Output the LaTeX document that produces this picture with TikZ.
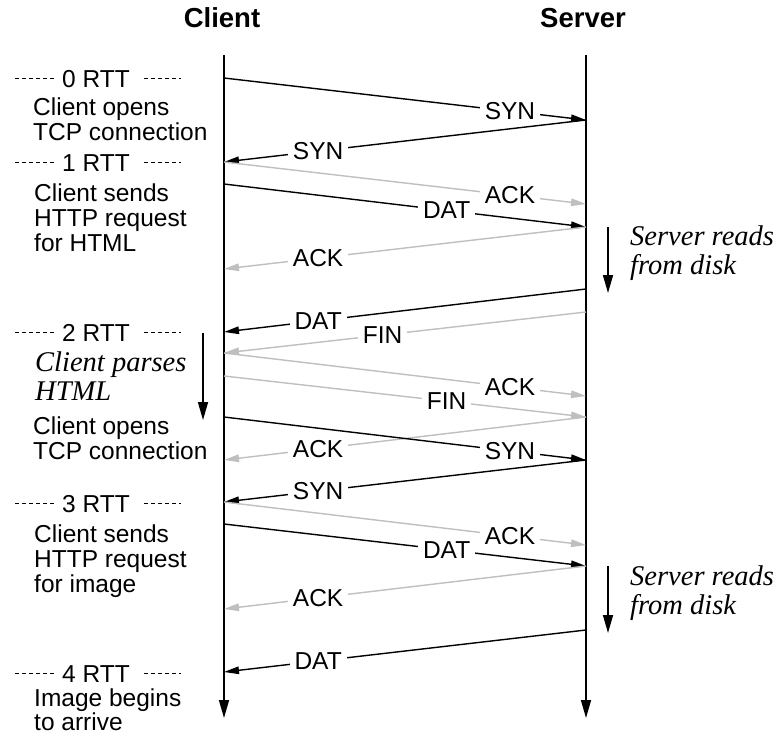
\documentclass[tikz,border=0pt]{standalone}
\usepackage{fontspec}
\setmainfont{Liberation Serif}
\setsansfont{Liberation Sans}
\usetikzlibrary{arrows.meta}

\tikzset{
	life/.style={line width=1.6pt, -{Triangle[length=18pt,width=10pt]}},
	msg/.style={line width=1.4pt, -{Triangle[length=15pt,width=7.5pt]}},
	ackmsg/.style={msg, color=black!25},
	lbl/.style={fill=white, text=black, inner xsep=5pt, inner ysep=1pt, font=\sffamily\fontsize{24.5}{25}\selectfont},
	note/.style={anchor=north west, align=left, inner sep=0pt, font=\sffamily\fontsize{24.5}{25}\selectfont},
	thought/.style={anchor=north west, align=left, inner sep=0pt, font=\itshape\fontsize{28.5}{29}\selectfont},
	rtt/.style={anchor=base, inner sep=0pt, font=\sffamily\fontsize{24.5}{25}\selectfont},
	rttdash/.style={line width=1pt, dash pattern=on 4pt off 3pt},
	head/.style={font=\sffamily\bfseries\fontsize{27.5}{30}\selectfont}
}

\begin{document}
\begin{tikzpicture}[x=1pt,y=-1pt]
	\useasboundingbox (0,0) rectangle (778,736);

	\node[head] (client) at (222,18) {Client};
	\node[head] (server) at (583,18) {Server};

	% time lines
	\coordinate (ctop) at (224,55);
	\coordinate (cbot) at (224,718);
	\coordinate (stop) at (586,55);
	\coordinate (sbot) at (586,718);
	\draw[life] (ctop) -- (cbot);
	\draw[life] (stop) -- (sbot);

	% points on the client line
	\coordinate (c1) at (224,78);
	\coordinate (c2) at (224,162);
	\coordinate (c3) at (224,184);
	\coordinate (c4) at (224,269);
	\coordinate (c5) at (224,332);
	\coordinate (c6) at (224,353);
	\coordinate (c7) at (224,376);
	\coordinate (c8) at (224,417);
	\coordinate (c9) at (224,460);
	\coordinate (c10) at (224,502);
	\coordinate (c11) at (224,524);
	\coordinate (c12) at (224,609);
	\coordinate (c13) at (224,672);

	% points on the server line
	\coordinate (s1) at (586,120);
	\coordinate (s2) at (586,204);
	\coordinate (s3) at (586,227);
	\coordinate (s4) at (586,289);
	\coordinate (s5) at (586,312);
	\coordinate (s6) at (586,396);
	\coordinate (s7) at (586,417);
	\coordinate (s8) at (586,460);
	\coordinate (s9) at (586,545);
	\coordinate (s10) at (586,566);
	\coordinate (s11) at (586,630);

	% first request
	\draw[msg] (c1) -- node[lbl, pos=0.79] {SYN} (s1);
	\draw[msg] (s1) -- node[lbl, pos=0.74] {SYN} (c2);
	\draw[ackmsg] (c2) -- node[lbl, pos=0.79] {ACK} (s2);
	\draw[msg] (c3) -- node[lbl, pos=0.615] {DAT} (s3);
	\draw[ackmsg] (s3) -- node[lbl, pos=0.74] {ACK} (c4);
	\draw[msg] (s4) -- node[lbl, pos=0.74] {DAT} (c5);
	\draw[ackmsg] (s5) -- node[lbl, pos=0.562] {FIN} (c6);
	\draw[ackmsg] (c6) -- node[lbl, pos=0.79] {ACK} (s6);
	\draw[ackmsg] (c7) -- node[lbl, pos=0.615] {FIN} (s7);

	% second request
	\draw[ackmsg] (s7) -- node[lbl, pos=0.74] {ACK} (c9);
	\draw[msg] (c8) -- node[lbl, pos=0.79] {SYN} (s8);
	\draw[msg] (s8) -- node[lbl, pos=0.74] {SYN} (c10);
	\draw[ackmsg] (c10) -- node[lbl, pos=0.79] {ACK} (s9);
	\draw[msg] (c11) -- node[lbl, pos=0.615] {DAT} (s10);
	\draw[ackmsg] (s10) -- node[lbl, pos=0.74] {ACK} (c12);
	\draw[msg] (s11) -- node[lbl, pos=0.74] {DAT} (c13);

	% round trip marks
	\node[rtt] (r0) at (96,87) {0 RTT};
	\node[rtt] (r1) at (96,171) {1 RTT};
	\node[rtt] (r2) at (96,341) {2 RTT};
	\node[rtt] (r3) at (96,512) {3 RTT};
	\node[rtt] (r4) at (96,682) {4 RTT};
	\foreach \r in {r0,r1,r2,r3,r4}{
		\draw[rttdash] (\r.west) ++(-8,0) -- ++(-40,0);
		\draw[rttdash] (\r.east) ++(14,0) -- ++(37,0);
	}

	% what happens meanwhile
	\node[note] (open1) at (33,98) {Client opens\\TCP connection};
	\node[note] (send1) at (34,184) {Client sends\\HTTP request\\for HTML};
	\node[thought] (parse) at (35,352) {Client parses\\HTML};
	\node[note] (open2) at (33,417) {Client opens\\TCP connection};
	\node[note] (send2) at (34,525) {Client sends\\HTTP request\\for image};
	\node[note, font=\sffamily\fontsize{24.5}{22}\selectfont] (arrive) at (34,689) {Image begins\\to arrive};

	\coordinate (p1) at (203,333);
	\coordinate (p2) at (203,420);
	\draw[life] (p1) -- (p2);

	\coordinate (d1) at (608,227);
	\coordinate (d2) at (608,293);
	\draw[life] (d1) -- (d2);
	\node[thought] (disk1) at (630,226) {Server reads\\from disk};

	\coordinate (d3) at (608,566);
	\coordinate (d4) at (608,633);
	\draw[life] (d3) -- (d4);
	\node[thought] (disk2) at (630,566) {Server reads\\from disk};

\end{tikzpicture}
\end{document}
